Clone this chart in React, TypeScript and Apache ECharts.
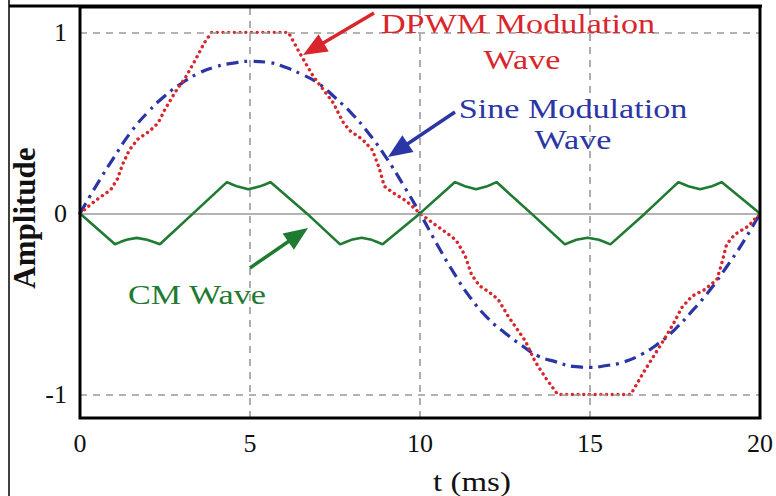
import React, { useEffect, useRef } from "react";
import * as echarts from "echarts";

// ---- data ----
const xTicks = [0, 5, 10, 15, 20];
const yTicks = [-1, 0, 1];

const sineT = [0, 0.5, 1, 1.5, 2, 2.5, 3, 3.5, 4, 4.5, 5, 5.5, 6, 6.5, 7, 7.5, 8, 8.5, 9, 9.5, 10,
  10.5, 11, 11.5, 12, 12.5, 13, 13.5, 14, 14.5, 15, 15.5, 16, 16.5, 17, 17.5, 18, 18.5, 19, 19.5, 20];
const sineY = [0, 0.16, 0.31, 0.45, 0.56, 0.65, 0.72, 0.775, 0.81, 0.83, 0.84, 0.835, 0.81, 0.77, 0.72, 0.64, 0.55, 0.44, 0.31, 0.16, 0,
  -0.17, -0.33, -0.47, -0.58, -0.66, -0.73, -0.79, -0.82, -0.845, -0.85, -0.84, -0.82, -0.78, -0.72, -0.64, -0.54, -0.43, -0.3, -0.16, 0];

const dpwmT = [0, 0.45, 0.9, 1.1, 1.25, 1.45, 1.7, 2.05, 2.3, 2.5, 2.8, 3.1, 3.4, 3.65, 3.87, 6.13, 6.45, 6.85, 7.15, 7.45, 7.75, 7.95, 8.3, 8.6, 8.8, 8.95, 9.2, 9.6, 10,
  10.5, 10.95, 11.1, 11.32, 11.52, 11.75, 12.0, 12.3, 12.6, 13.1, 13.38, 13.7, 14.05, 16.2, 16.32, 16.6, 16.9, 17.2, 17.45, 17.7, 18, 18.38, 18.73, 18.87, 19.02, 19.26, 19.66, 20];
const dpwmY = [0, 0.07, 0.13, 0.19, 0.27, 0.35, 0.41, 0.455, 0.5, 0.575, 0.67, 0.75, 0.85, 0.94, 1, 1, 0.89, 0.76, 0.685, 0.61, 0.5, 0.455, 0.41, 0.35, 0.25, 0.15, 0.115, 0.068, 0,
  -0.07, -0.13, -0.16, -0.23, -0.34, -0.4, -0.43, -0.475, -0.57, -0.705, -0.816, -0.91, -1, -1, -0.96, -0.87, -0.78, -0.69, -0.61, -0.52, -0.457, -0.42, -0.365, -0.28, -0.17, -0.116, -0.07, 0];

const cmT = [0, 1.03, 1.2, 1.37, 1.67, 1.97, 2.15, 2.35, 3.33,
  4.32, 4.48, 4.64, 4.95, 5.27, 5.44, 5.6, 6.67,
  7.65, 7.82, 7.98, 8.28, 8.58, 8.74, 8.9, 10,
  11.03, 11.2, 11.35, 11.65, 11.95, 12.1, 12.25, 13.27,
  14.26, 14.43, 14.6, 14.93, 15.26, 15.43, 15.6, 16.62,
  17.6, 17.77, 17.92, 18.24, 18.56, 18.71, 18.87, 20];
const cmY = [0, -0.17, -0.157, -0.145, -0.135, -0.145, -0.157, -0.17, 0,
  0.173, 0.16, 0.148, 0.133, 0.148, 0.16, 0.173, 0,
  -0.171, -0.158, -0.146, -0.134, -0.146, -0.158, -0.171, 0,
  0.173, 0.16, 0.148, 0.133, 0.148, 0.16, 0.173, 0,
  -0.171, -0.158, -0.146, -0.134, -0.146, -0.158, -0.171, 0,
  0.173, 0.16, 0.148, 0.133, 0.148, 0.16, 0.173, 0];

const gridX = [5, 10, 15];
const gridY = [1, -1];

const annoDpwm = ["DPWM Modulation", "Wave"];
const annoSine = ["Sine Modulation", "Wave"];
const annoCm = "CM Wave";
const xTitle = "t (ms)";
const yTitle = "Amplitude";

// ---- styling ----
const FONT = "'Liberation Serif', 'Times New Roman', serif";
const RED = "#d9262c";
const BLUE = "#2b36a6";
const GREEN = "#1f7a32";
const GRAY = "#9a9a9a";

const zip = (a: number[], b: number[]) => a.map((v, i) => [v, b[i]]);

function arrow(x1: number, y1: number, x2: number, y2: number, color: string) {
  const dx = x2 - x1, dy = y2 - y1;
  const len = Math.sqrt(dx * dx + dy * dy);
  const ux = dx / len, uy = dy / len;
  const L = 24, W = 10;
  const bx = x2 - ux * L, by = y2 - uy * L;
  const nx = -uy, ny = ux;
  return [
    { type: "line", shape: { x1, y1, x2: bx + ux * 2, y2: by + uy * 2 }, style: { stroke: color, lineWidth: 3.5 }, z: 100 },
    {
      type: "polygon",
      shape: { points: [[x2, y2], [bx + nx * W, by + ny * W], [bx - nx * W, by - ny * W]] },
      style: { fill: color }, z: 100,
    },
  ];
}

function txt(text: string, x: number, y: number, color: string, size: number, extra: any = {}) {
  return {
    type: "text", x, y, z: 100,
    style: { text, fill: color, font: `${extra.bold ? "bold " : ""}${size}px ${FONT}`, textAlign: "center", textVerticalAlign: "middle" },
    ...(extra.el || {}),
  };
}

const SX = 1.22;

const option: any = {
  animation: false,
  backgroundColor: "#fff",
  grid: { left: 80, right: 16, top: 7, bottom: 78, show: true, borderColor: "#000", borderWidth: 3, backgroundColor: "transparent", z: 10 },
  xAxis: {
    type: "value", min: xTicks[0], max: xTicks[xTicks.length - 1], interval: 5,
    axisLine: { show: false }, axisTick: { show: false }, splitLine: { show: false },
    axisLabel: { color: "#111", fontSize: 26, fontFamily: FONT, margin: 12 },
  },
  yAxis: {
    type: "value", min: -1.13, max: 1.14,
    axisLine: { show: false }, axisTick: { show: false }, splitLine: { show: false },
    axisLabel: { color: "#111", fontSize: 26, fontFamily: FONT, margin: 13, customValues: yTicks },
  },
  series: [
    {
      type: "line", data: [], z: 1, silent: true,
      markLine: {
        silent: true, symbol: ["none", "none"], label: { show: false },
        lineStyle: { color: GRAY, width: 1.6, type: [7, 6] },
        data: [
          ...gridX.map((v) => ({ xAxis: v })),
          ...gridY.map((v) => ({ yAxis: v })),
          { yAxis: 0, lineStyle: { color: GRAY, width: 1.6, type: "solid" } },
        ],
      },
    },
    {
      name: "Sine", type: "line", data: zip(sineT, sineY), smooth: true, showSymbol: false, z: 3,
      lineStyle: { color: BLUE, width: 3.2, type: [12, 6, 3, 6] },
    },
    {
      name: "DPWM", type: "line", data: zip(dpwmT, dpwmY), smooth: false, showSymbol: false, z: 4,
      lineStyle: { color: RED, width: 3.4, type: [0.1, 5.6], cap: "round" },
    },
    {
      name: "CM", type: "line", data: zip(cmT, cmY), smooth: false, showSymbol: false, z: 5,
      lineStyle: { color: GREEN, width: 2.6 },
    },
  ],
  graphic: [
    { type: "line", shape: { x1: 9, y1: 0, x2: 9, y2: 496 }, style: { stroke: "#000", lineWidth: 1.5 }, z: 100 },
    { type: "line", shape: { x1: 9, y1: 6, x2: 762, y2: 6 }, style: { stroke: "#000", lineWidth: 3 }, z: 100 },
    txt(annoDpwm[0], 518, 24, RED, 28, { el: { scaleX: SX } }),
    txt(annoDpwm[1], 522, 60, RED, 28, { el: { scaleX: SX } }),
    txt(annoSine[0], 573, 109, BLUE, 28, { el: { scaleX: SX } }),
    txt(annoSine[1], 573, 140, BLUE, 28, { el: { scaleX: SX } }),
    txt(annoCm, 197, 295, GREEN, 28, { el: { scaleX: SX } }),
    txt(xTitle, 472, 482, "#111", 27, { el: { scaleX: SX } }),
    txt(yTitle, 24, 218, "#111", 31, { bold: true, el: { rotation: Math.PI / 2 } }),
    ...arrow(374, 13, 303, 55, RED),
    ...arrow(455, 112, 388, 157, BLUE),
    ...arrow(250, 268, 308, 228, GREEN),
  ],
};

export default function App() {
  const ref = useRef<HTMLDivElement>(null);
  useEffect(() => {
    const chart = echarts.init(ref.current!, null, { renderer: "svg" });
    chart.setOption(option);
    return () => chart.dispose();
  }, []);
  return (
    <div
      ref={ref}
      style={{ position: "fixed", left: 0, top: 0, width: 776, height: 496, background: "#fff" }}
    />
  );
}
